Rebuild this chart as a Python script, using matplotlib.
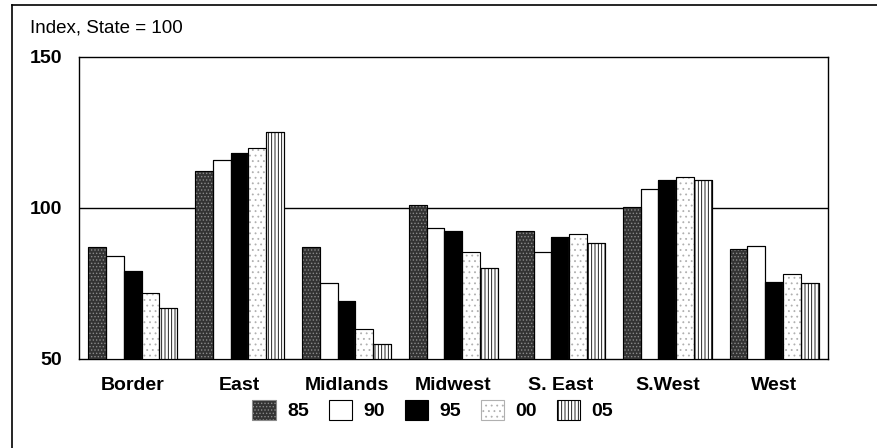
import numpy as np
import matplotlib.pyplot as plt
from matplotlib.lines import Line2D

plt.rcParams['font.family'] = ['Liberation Sans', 'DejaVu Sans']
plt.rcParams['hatch.linewidth'] = 0.6

regions = ['Border', 'East', 'Midlands', 'Midwest', 'S. East', 'S.West', 'West']
years = ['85', '90', '95', '00', '05']
v85 = [87.0, 112.1, 87.0, 101.1, 92.2, 100.2, 86.4]
v90 = [84.0, 116.0, 75.2, 93.4, 85.4, 106.3, 87.3]
v95 = [79.0, 118.2, 69.1, 92.2, 90.2, 109.1, 75.4]
v00 = [71.9, 119.9, 59.9, 85.4, 91.2, 110.3, 78.1]
v05 = [66.9, 125.0, 55.0, 80.2, 88.4, 109.1, 75.2]
series = [v85, v90, v95, v00, v05]

# face, hatch, hatch colour per year
styles = [
    ('#333333', '.....', '#8a8a8a'),
    ('white', None, 'black'),
    ('black', None, 'black'),
    ('white', '...', '#b0b0b0'),
    ('white', '|||||', 'black'),
]

fig = plt.figure(figsize=(8.78, 4.48), dpi=100)
ax = fig.add_axes([0.090, 0.199, 0.853, 0.674])

x = np.arange(len(regions))
w = 0.168
handles = []
for i, (vals, (fc, hatch, hc)) in enumerate(zip(series, styles)):
    bars = ax.bar(x + (i - 2) * w, np.array(vals) - 50, width=w, bottom=50,
                  facecolor=fc, edgecolor=hc if hatch else 'black', hatch=hatch,
                  linewidth=0.8, zorder=3, label=years[i])
    # black outline on top of hatched bars
    ax.bar(x + (i - 2) * w, np.array(vals) - 50, width=w, bottom=50,
           facecolor='none', edgecolor='black', linewidth=0.8, zorder=4)
    handles.append(bars)

ax.axhline(100, color='black', linewidth=1.0, zorder=1)
ax.set_ylim(50, 150)
ax.set_xlim(-0.5, len(regions) - 0.5)
ax.set_yticks([50, 100, 150])
ax.set_yticklabels(['50', '100', '150'], fontsize=14, fontweight='bold')
ax.tick_params(axis='y', length=0, pad=12)
ax.set_xticks(x)
ax.set_xticklabels(regions, fontsize=14, fontweight='bold')
ax.tick_params(axis='x', length=0, pad=13)
for s in ax.spines.values():
    s.set_linewidth(1.0)

fig.text(0.034, 0.938, 'Index, State = 100', fontsize=13.5, va='center')

leg = fig.legend(handles=handles, labels=years, loc='center', bbox_to_anchor=(0.493, 0.085),
                 ncol=5, frameon=False, prop={'weight': 'bold', 'size': 14},
                 handlelength=1.2, handleheight=1.2, handletextpad=0.6, columnspacing=1.0)

# outer frame (left and top edges visible)
fig.add_artist(Line2D([0.014, 0.014], [0.0, 0.989], color='black', linewidth=1.2, transform=fig.transFigure))
fig.add_artist(Line2D([0.014, 1.0], [0.989, 0.989], color='black', linewidth=1.2, transform=fig.transFigure))

plt.savefig('out.png', dpi=100)
